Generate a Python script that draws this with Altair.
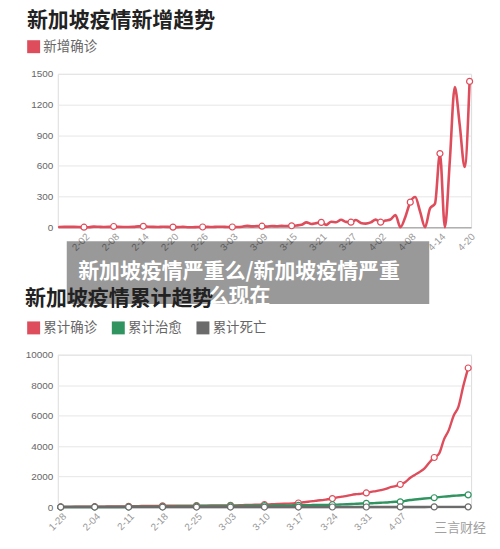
import altair as alt
import pandas as pd

# ---------------- data ----------------
new_dates = [f"{d.month}-{d.day:02d}" for d in pd.date_range("2020-01-28", "2020-04-20")]
new_cases = [2, 3, 3, 3,
             2, 0, 0, 6, 4, 2, 3, 7, 3, 2, 2, 3, 8, 9, 5, 3, 2, 4, 3, 1, 1, 3, 0, 0, 2, 2, 3, 2, 4,
             4, 2, 2, 2, 5, 13, 8, 12, 10, 6, 12, 9, 13, 12, 14, 17, 23, 47, 32, 40, 47, 23, 54, 49, 73,
             52, 49, 70, 42, 35, 47,
             74, 49, 65, 75, 120, 0, 100, 245, 295, 150, 0, 185, 230, 720, 0, 650, 1370, 1000, 590, 1426]
new_ticks = ["2-02", "2-08", "2-14", "2-20", "2-26", "3-03", "3-09", "3-15", "3-21", "3-27",
             "4-02", "4-08", "4-14", "4-20"]
new_y_ticks = [0, 300, 600, 900, 1200, 1500]

cum_dates = [f"{d.month}-{d.day:02d}" for d in pd.date_range("2020-01-28", "2020-04-21")]
cum_confirmed = [7, 10, 13, 16,
                 18, 18, 18, 24, 28, 30, 33, 40, 43, 45, 47, 50, 58, 67, 72, 75, 77, 81, 84, 85, 86, 89,
                 89, 89, 91, 93, 96, 98, 102,
                 106, 108, 110, 112, 117, 130, 138, 150, 160, 166, 178, 187, 200, 212, 226, 243, 266, 313,
                 345, 385, 432, 455, 509, 558, 631, 683, 732, 802, 844, 879, 926,
                 1000, 1049, 1114, 1189, 1309, 1375, 1481, 1623, 1910, 2108, 2299, 2532, 2918, 3252, 3500,
                 4427, 5050, 5992, 6588, 7950, 9125]
cum_recovered = [0, 0, 0, 0,
                 0, 0, 0, 1, 1, 1, 2, 2, 2, 7, 9, 15, 17, 17, 18, 19, 24, 29, 34, 37, 49, 51, 53, 62, 62,
                 66, 69, 69, 72,
                 74, 78, 78, 79, 79, 82, 90, 93, 93, 96, 96, 97, 105, 109, 109, 114, 114, 114, 124, 131,
                 140, 144, 144, 156, 160, 172, 183, 198, 212, 228, 240,
                 245, 266, 282, 297, 320, 344, 344, 406, 460, 492, 528, 560, 586, 611, 652, 683, 708, 740,
                 758, 780, 800]
cum_deaths = [0] * 53 + [2, 2, 2, 2, 2, 2, 2, 2, 3, 3, 3,
                         3, 5, 5, 6, 6, 6, 6, 6, 6, 7, 7, 7, 8, 10, 10, 10, 11, 11, 11, 11, 11]
cum_ticks = ["1-28", "2-04", "2-11", "2-18", "2-25", "3-03", "3-10", "3-17", "3-24", "3-31", "4-07"]
cum_y_ticks = [0, 2000, 4000, 6000, 8000, 10000]

series_names = ["累计确诊", "累计治愈", "累计死亡"]
series_colors = ["#de4d5b", "#2f9460", "#6b6b6b"]
new_color = "#de4d5b"

caption_lines = ["新加坡疫情严重么/新加坡疫情严重", "么现在"]
watermark = "三言财经"

# ---------------- tables ----------------
top_df = pd.DataFrame({"date": new_dates, "value": new_cases, "kind": "新增确诊"})
top_df["marker"] = [(i - 5) % 6 == 0 and i >= 5 for i in range(len(new_dates))]

rows = []
for name, vals in zip(series_names, [cum_confirmed, cum_recovered, cum_deaths]):
    for i, (d, v) in enumerate(zip(cum_dates, vals)):
        rows.append({"date": d, "value": v, "series": name, "marker": i % 7 == 0})
bot_df = pd.DataFrame(rows)
one = pd.DataFrame({"k": [0]})

CJK = "Noto Sans CJK SC"
LAT = "Liberation Sans"

def legend(x, y):
    return alt.Legend(title=None, orient="none", legendX=x, legendY=y, direction="horizontal",
                      symbolType="square", symbolSize=169, symbolStrokeWidth=0, symbolOpacity=1,
                      labelFontSize=13.5, labelColor="#666666", labelFont=CJK, padding=0,
                      labelOffset=3, columnPadding=14)

def yaxis(vals):
    return alt.Axis(values=vals, format="d", grid=True, gridColor="#e6e6e6", gridWidth=1, domain=False,
                    ticks=False, labelColor="#666666", labelFontSize=10, labelFont=LAT, labelPadding=5)

def xaxis(vals):
    return alt.Axis(values=vals, labelAngle=-45, labelColor="#999999", labelFontSize=10, labelFont=LAT,
                    ticks=False, grid=False, domain=True, domainColor="#b0b0b0", domainWidth=1.5,
                    labelPadding=4)

# ---------------- top chart ----------------
tx = alt.X("date:O", sort=new_dates, scale=alt.Scale(type="point", padding=0.3), axis=xaxis(new_ticks), title=None)
ty = alt.Y("value:Q", scale=alt.Scale(domain=[0, 1500], nice=False), axis=yaxis(new_y_ticks), title=None)
tcolor = alt.Color("kind:N", scale=alt.Scale(domain=["新增确诊"], range=[new_color]), legend=legend(-31, -34))

t_leg = alt.Chart(top_df).transform_filter("datum.value < 0").mark_square().encode(x=tx, y=ty, color=tcolor)
t_line = alt.Chart(top_df).mark_line(interpolate="monotone", strokeWidth=2.6, strokeCap="round").encode(
    x=tx, y=ty, color=tcolor)
t_pts = alt.Chart(top_df).transform_filter("datum.marker").mark_point(
    shape="circle", filled=False, fill="white", fillOpacity=1, opacity=1, size=36, strokeWidth=1.2).encode(
    x=tx, y=ty, color=tcolor)
t_rect = alt.Chart(one).mark_rect(color="black", opacity=0.4).encode(
    x=alt.value(9), x2=alt.value(373), y=alt.value(168), y2=alt.value(231))
t_text = alt.Chart(one).mark_text(text=caption_lines, color="white", fontSize=21, fontWeight="bold", font=CJK,
                                  align="center", baseline="middle", lineHeight=25).encode(
    x=alt.value(182), y=alt.value(199))

top = alt.layer(t_leg, t_line, t_pts, t_rect, t_text).properties(
    width=415, height=154,
    title=alt.TitleParams("新加坡疫情新增趋势", anchor="start", frame="bounds", fontSize=21, fontWeight="bold",
                          color="#222222", font=CJK, offset=9))

# ---------------- bottom chart ----------------
bx = alt.X("date:O", sort=cum_dates, scale=alt.Scale(type="point", padding=0.6), axis=xaxis(cum_ticks), title=None)
by = alt.Y("value:Q", scale=alt.Scale(domain=[0, 10000], nice=False), axis=yaxis(cum_y_ticks), title=None)
bcolor = alt.Color("series:N", scale=alt.Scale(domain=series_names, range=series_colors), legend=legend(-31, -34))

layers = [alt.Chart(bot_df).transform_filter("datum.value < 0").mark_square().encode(x=bx, y=by, color=bcolor)]
for name in series_names:
    layers.append(alt.Chart(bot_df).transform_filter(alt.datum.series == name).mark_line(
        interpolate="monotone", strokeWidth=2.4, strokeCap="round").encode(x=bx, y=by, color=bcolor))
for name in series_names:
    layers.append(alt.Chart(bot_df).transform_filter((alt.datum.series == name) & alt.datum.marker).mark_point(
        shape="circle", filled=False, fill="white", fillOpacity=1, opacity=1, size=36, strokeWidth=1.2).encode(
        x=bx, y=by, color=bcolor))
layers.append(alt.Chart(one).mark_text(text=watermark, color="#a0a0a0", fontSize=13, font=CJK,
                                       align="left", baseline="middle").encode(x=alt.value(378), y=alt.value(174)))

bottom = alt.layer(*layers).properties(
    width=415, height=153,
    title=alt.TitleParams("新加坡疫情累计趋势", anchor="start", frame="bounds", fontSize=21, fontWeight="bold",
                          color="#222222", font=CJK, offset=12))

chart = alt.vconcat(top, bottom, spacing=-21).resolve_scale(color="independent").properties(
    padding={"left": 16, "top": 0, "right": 5, "bottom": 5}
).configure_view(stroke=None).configure(font=CJK)

chart.save("out.html", embed_options={"renderer": "svg", "actions": False})
